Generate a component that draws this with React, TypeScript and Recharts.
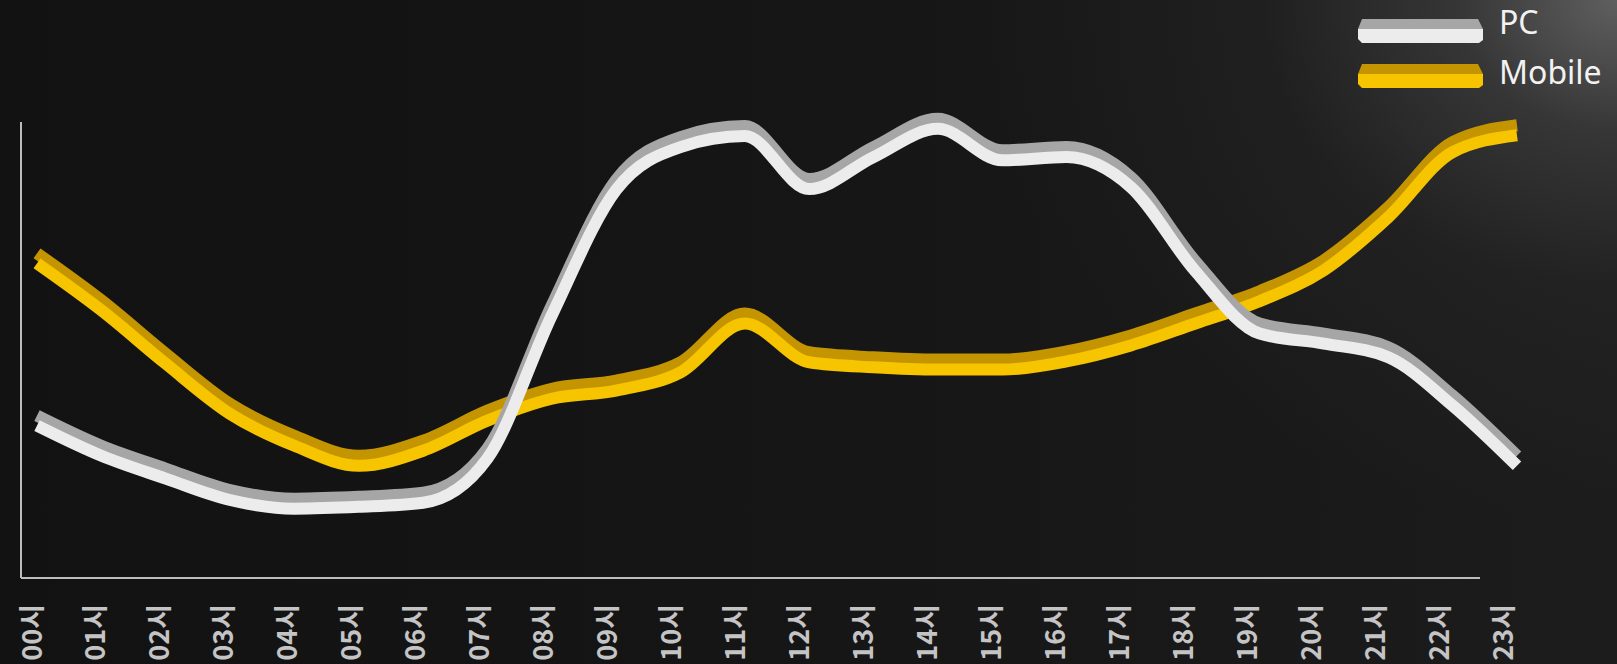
import { LineChart, Line, XAxis, YAxis, Legend } from 'recharts';

// hourly traffic share, PC vs mobile
const HOURS = [
    '00시', '01시', '02시', '03시', '04시', '05시', '06시', '07시',
    '08시', '09시', '10시', '11시', '12시', '13시', '14시', '15시',
    '16시', '17시', '18시', '19시', '20시', '21시', '22시', '23시',
];

const PC_SHARE = [
    34.5, 27.9, 22.9, 18.2, 16.3, 16.7, 17.6, 27.3,
    58.7, 86.2, 95.6, 98.0, 86.4, 93.4, 99.6, 92.7,
    93.4, 86.8, 68.4, 54.7, 52.5, 49.5, 38.9, 25.7,
];

const MOBILE_SHARE = [
    70.1, 59.8, 48.1, 37.1, 30.1, 25.7, 29.0, 35.6,
    40.4, 42.2, 46.2, 56.9, 48.4, 47.3, 46.8, 46.8,
    48.6, 52.1, 56.9, 61.8, 68.6, 80.2, 94.5, 98.2,
];

const SERIES = [
    { key: 'pc', name: 'PC', top: '#a6a6a6', front: '#ececec' },
    { key: 'mobile', name: 'Mobile', top: '#c49500', front: '#f7c400' },
];

const data = HOURS.map((hour, i) => ({
    hour,
    pc: PC_SHARE[i],
    mobile: MOBILE_SHARE[i],
}));

const FONT = '"Noto Sans CJK KR", "Noto Sans", sans-serif';

// labels sit a little left of the points, drifting further toward the right end
function HourTick({ x, y, payload, index }: any) {
    const dx = -7 - 0.35 * (index ?? payload.index ?? 0);
    return (
        <text
            x={0}
            y={0}
            transform={`translate(${x + dx},${y + 18}) rotate(-90)`}
            textAnchor="end"
            dominantBaseline="central"
            fontSize={27}
            fontWeight={700}
            fontFamily={FONT}
            fill="#c4c4c4"
        >
            {payload.value}
        </text>
    );
}

// bevelled bar swatch, darker top face over a brighter front face
function Swatch({ top, front }: { top: string; front: string }) {
    return (
        <svg width={126} height={24} style={{ display: 'block' }}>
            <polygon points="4,0 120,0 125,10 0,10" fill={top} />
            <polygon points="0,10 125,10 125,21 121,24 4,24 0,20" fill={front} />
        </svg>
    );
}

function RibbonLegend() {
    return (
        <div style={{ position: 'relative', width: 1617, height: 100 }}>
            {SERIES.map((s, i) => (
                <div key={s.key}>
                    <div style={{ position: 'absolute', left: 1358, top: 19 + i * 45 }}>
                        <Swatch top={s.top} front={s.front} />
                    </div>
                    <div
                        style={{
                            position: 'absolute',
                            left: 1499,
                            top: 6 + i * 50,
                            fontSize: 32,
                            lineHeight: 1,
                            fontFamily: '"Noto Sans", sans-serif',
                            color: '#f2f2f2',
                            whiteSpace: 'nowrap',
                        }}
                    >
                        {s.name}
                    </div>
                </div>
            ))}
        </div>
    );
}

export default function App() {
    // mobile first so the PC ribbon sits in front where they cross
    const order = [SERIES[1], SERIES[0]];

    return (
        <div
            style={{
                position: 'relative',
                width: 1617,
                height: 664,
                overflow: 'hidden',
                background:
                    'radial-gradient(ellipse 640px 520px at 100% 0%, rgba(150,150,150,0.55) 0%, rgba(110,110,110,0.32) 25%, rgba(70,70,70,0.14) 55%, rgba(0,0,0,0) 100%), linear-gradient(90deg, #121212 0%, #151515 45%, #1c1c1c 100%)',
            }}
        >
            <style>{`
                body { margin: 0; }
                .ribbon-top { transform: translateY(-5px); }
                .ribbon-front { transform: translateY(5px); }
            `}</style>
            <LineChart
                width={1617}
                height={664}
                data={data}
                margin={{ top: 122, right: 100, bottom: 0, left: 20 }}
            >
                {/* the base line stops short of the last hour */}
                <XAxis
                    dataKey="hour"
                    interval={0}
                    height={86}
                    tickLine={false}
                    axisLine={{ stroke: '#bdbdbd', strokeWidth: 2, strokeDasharray: '1459 200' }}
                    padding={{ left: 16, right: 0 }}
                    tick={<HourTick />}
                />
                <YAxis
                    domain={[0, 100]}
                    width={1}
                    tick={false}
                    tickLine={false}
                    axisLine={{ stroke: '#bdbdbd', strokeWidth: 2 }}
                />
                <Legend
                    verticalAlign="middle"
                    align="center"
                    layout="horizontal"
                    wrapperStyle={{ top: 0, left: 0, width: 1617, height: 100 }}
                    content={() => <RibbonLegend />}
                />
                {order.flatMap((s) => [
                    <Line
                        key={`${s.key}-top`}
                        className="ribbon-top"
                        type="monotone"
                        dataKey={s.key}
                        name={s.name}
                        stroke={s.top}
                        strokeWidth={12}
                        dot={false}
                        activeDot={false}
                        legendType="none"
                        isAnimationActive={false}
                    />,
                    <Line
                        key={`${s.key}-front`}
                        className="ribbon-front"
                        type="monotone"
                        dataKey={s.key}
                        name={s.name}
                        stroke={s.front}
                        strokeWidth={12}
                        dot={false}
                        activeDot={false}
                        legendType="none"
                        isAnimationActive={false}
                    />,
                ])}
            </LineChart>
        </div>
    );
}
